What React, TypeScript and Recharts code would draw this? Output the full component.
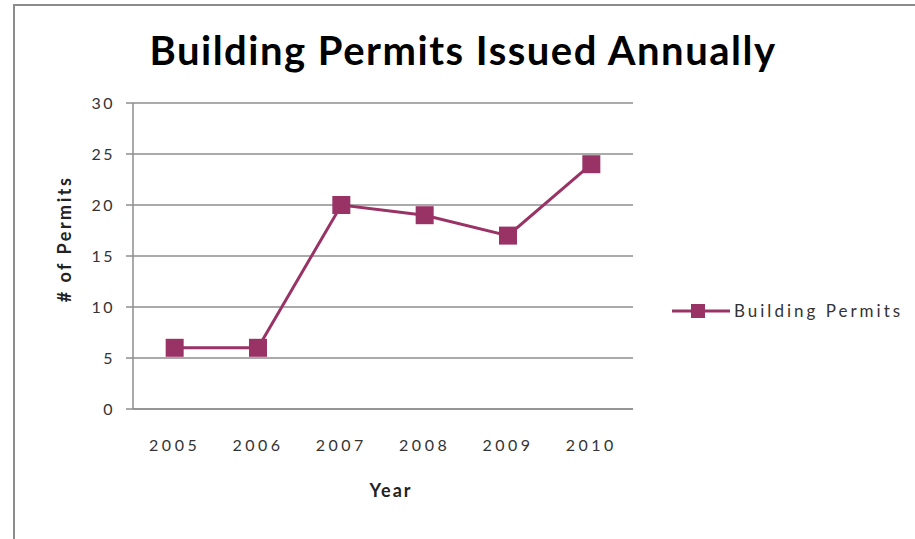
import React from 'react';
import { LineChart, Line, XAxis, YAxis, CartesianGrid, Legend } from 'recharts';

const YEARS = ['2005', '2006', '2007', '2008', '2009', '2010'];
const PERMITS = [6, 6, 20, 19, 17, 24];
const Y_TICKS = [0, 5, 10, 15, 20, 25, 30];

const data = YEARS.map((year, i) => ({ year, permits: PERMITS[i] }));

const PLUM = '#993366';
const GRID = '#8e8e8e';
const FONT = 'Lato, "Open Sans", sans-serif';

const SquareDot = (props: any) => {
  const { cx, cy, index } = props;
  if (cx == null || cy == null) return null;
  return <rect key={index} x={cx - 9} y={cy - 9} width={18} height={18} fill={PLUM} />;
};

const LegendContent = () => (
  <div style={{ display: 'flex', alignItems: 'center', fontFamily: FONT, fontSize: 17, color: '#333', letterSpacing: 3 }}>
    <svg width={58} height={18}>
      <line x1={0} y1={9} x2={58} y2={9} stroke={PLUM} strokeWidth={3} />
      <rect x={19} y={2} width={14} height={14} fill={PLUM} />
    </svg>
    <span style={{ marginLeft: 4 }}>Building Permits</span>
  </div>
);

const YLabel = (props: any) => {
  const { viewBox } = props;
  const x = viewBox.x + 44;
  const y = viewBox.y + viewBox.height / 2 - 17;
  return (
    <text
      x={x}
      y={y}
      transform={`rotate(-90, ${x}, ${y})`}
      textAnchor="middle"
      dominantBaseline="central"
      fontFamily={FONT}
      fontSize={18}
      fontWeight="bold"
      fill="#222"
      letterSpacing={2.5}
    >
      # of Permits
    </text>
  );
};

export default function App() {
  return (
    <div style={{ position: 'absolute', left: 0, top: 0, width: 915, height: 539, overflow: 'hidden', background: '#fff' }}>
      <div
        style={{
          position: 'absolute',
          left: 13,
          top: 4,
          width: 1000,
          height: 1000,
          border: '2px solid #8c8c8c',
        }}
      />
      <div
        style={{
          position: 'absolute',
          left: 0,
          top: 26,
          width: 926,
          textAlign: 'center',
          fontFamily: FONT,
          fontWeight: 'bold',
          fontSize: 40,
          letterSpacing: 1.5,
          color: '#000',
        }}
      >
        Building Permits Issued Annually
      </div>
      <LineChart
        width={915}
        height={539}
        data={data}
        margin={{ top: 103, right: 282, bottom: 35, left: 20 }}
        style={{ position: 'absolute', left: 0, top: 0 }}
      >
        <CartesianGrid vertical={false} stroke={GRID} strokeWidth={1.5} />
        <XAxis
          dataKey="year"
          height={95}
          padding={{ left: 41.67, right: 41.67 }}
          tickLine={false}
          tickSize={0}
          tickMargin={31}
          axisLine={{ stroke: GRID, strokeWidth: 1.5 }}
          tick={{ fill: '#333', fontSize: 16, fontFamily: FONT, letterSpacing: 3.5 }}
          label={{
            value: 'Year',
            position: 'insideBottom',
            offset: 7,
            dx: 8,
            fontSize: 18,
            fontWeight: 'bold',
            fontFamily: FONT,
            fill: '#222',
            letterSpacing: 2,
          }}
        />
        <YAxis
          width={113}
          domain={[0, 30]}
          ticks={Y_TICKS}
          interval={0}
          tickSize={7}
          tickMargin={11}
          axisLine={{ stroke: GRID, strokeWidth: 1.5 }}
          tickLine={{ stroke: GRID, strokeWidth: 1.5 }}
          tick={{ fill: '#333', fontSize: 16, fontFamily: FONT, letterSpacing: 2.5 }}
          label={<YLabel />}
        />
        <Legend
          layout="vertical"
          align="center"
          verticalAlign="middle"
          content={<LegendContent />}
          wrapperStyle={{ left: 672, top: 300, width: 'auto' }}
        />
        <Line
          type="linear"
          dataKey="permits"
          name="Building Permits"
          stroke={PLUM}
          strokeWidth={3}
          dot={<SquareDot />}
          activeDot={false}
          isAnimationActive={false}
        />
      </LineChart>
    </div>
  );
}
